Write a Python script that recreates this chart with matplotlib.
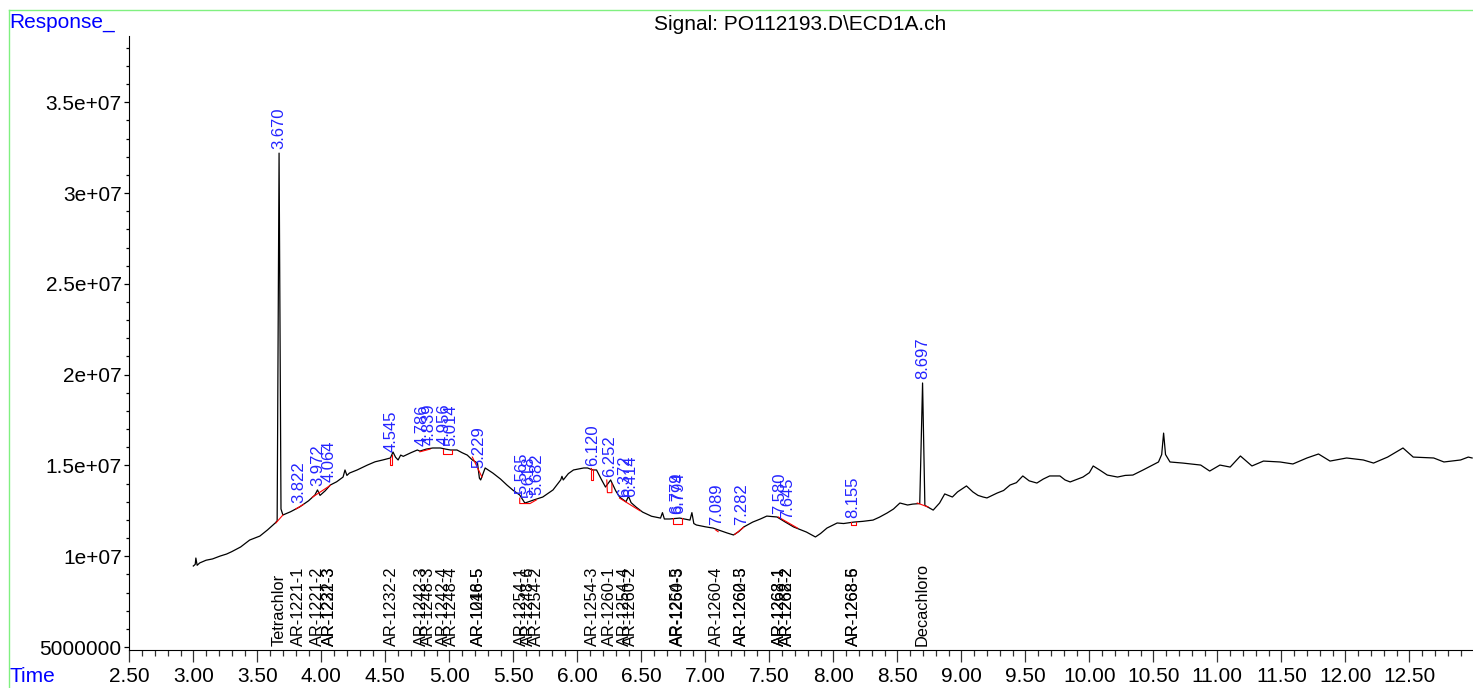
import matplotlib.pyplot as plt
import numpy as np
from matplotlib.ticker import MultipleLocator, FixedLocator, FixedFormatter
from matplotlib.lines import Line2D

plt.rcParams['font.family'] = ['Liberation Sans', 'DejaVu Sans']

# trace: retention time (min) and response (x 1e6)
time = np.array([
    3.00, 3.015, 3.02, 3.03, 3.05, 3.10, 3.15, 3.21, 3.26, 3.30,
    3.37, 3.44, 3.52, 3.58, 3.64, 3.655, 3.670, 3.685, 3.70, 3.76,
    3.83, 3.90, 3.95, 3.97, 3.99, 4.03, 4.07, 4.12, 4.17, 4.185,
    4.20, 4.22, 4.28, 4.36, 4.42, 4.48, 4.54, 4.56, 4.58, 4.60,
    4.62, 4.64, 4.70, 4.75, 4.77, 4.82, 4.87, 4.93, 4.97, 5.01,
    5.06, 5.10, 5.14, 5.18, 5.22, 5.235, 5.245, 5.28, 5.34, 5.40,
    5.45, 5.50, 5.55, 5.59, 5.62, 5.66, 5.73, 5.81, 5.87, 5.88,
    5.89, 5.93, 5.97, 6.05, 6.08, 6.12, 6.15, 6.19, 6.22, 6.26,
    6.30, 6.33, 6.38, 6.40, 6.42, 6.46, 6.51, 6.58, 6.65, 6.665,
    6.68, 6.72, 6.80, 6.88, 6.895, 6.91, 6.93, 7.00, 7.06, 7.12,
    7.17, 7.22, 7.26, 7.30, 7.37, 7.43, 7.48, 7.56, 7.62, 7.69,
    7.79, 7.86, 7.90, 7.95, 8.03, 8.08, 8.16, 8.23, 8.31, 8.36,
    8.42, 8.47, 8.52, 8.58, 8.62, 8.675, 8.697, 8.715, 8.78, 8.83,
    8.87, 8.93, 8.97, 9.04, 9.09, 9.13, 9.17, 9.20, 9.28, 9.33,
    9.38, 9.43, 9.48, 9.53, 9.59, 9.64, 9.69, 9.77, 9.81, 9.85,
    9.95, 10.00, 10.03, 10.08, 10.14, 10.22, 10.28, 10.34, 10.42, 10.48,
    10.54, 10.565, 10.58, 10.595, 10.63, 10.73, 10.87, 10.94, 11.02, 11.10,
    11.18, 11.27, 11.36, 11.49, 11.59, 11.70, 11.79, 11.88, 12.01, 12.14,
    12.22, 12.33, 12.45, 12.53, 12.69, 12.77, 12.90, 12.96, 12.99,
])
resp = np.array([
    9.46, 9.55, 9.90, 9.50, 9.63, 9.78, 9.85, 10.01, 10.12, 10.25,
    10.51, 10.89, 11.11, 11.45, 11.83, 11.95, 32.20, 12.60, 12.27, 12.45,
    12.71, 13.05, 13.37, 13.65, 13.35, 13.60, 13.92, 14.10, 14.36, 14.75,
    14.45, 14.58, 14.75, 15.02, 15.20, 15.30, 15.41, 15.74, 15.45, 15.30,
    15.57, 15.50, 15.70, 15.85, 15.79, 15.90, 15.96, 15.96, 15.90, 15.85,
    15.85, 15.70, 15.57, 15.30, 15.13, 14.30, 14.20, 14.86, 14.58, 14.25,
    13.92, 13.62, 13.37, 12.93, 13.00, 13.10, 13.26, 13.65, 14.20, 14.40,
    14.20, 14.55, 14.75, 14.86, 14.86, 14.75, 14.75, 14.20, 13.81, 14.20,
    13.60, 13.26, 13.00, 13.30, 12.95, 12.70, 12.43, 12.20, 12.10, 12.40,
    12.05, 12.05, 12.10, 11.99, 12.40, 11.80, 11.72, 11.62, 11.55, 11.40,
    11.28, 11.17, 11.35, 11.61, 11.88, 12.05, 12.21, 12.16, 11.90, 11.61,
    11.33, 11.06, 11.25, 11.55, 11.83, 11.80, 11.88, 11.92, 11.99, 12.15,
    12.38, 12.60, 12.93, 12.82, 12.87, 12.90, 19.54, 12.80, 12.54, 12.93,
    13.43, 13.26, 13.54, 13.87, 13.54, 13.35, 13.26, 13.21, 13.48, 13.62,
    13.92, 14.05, 14.42, 14.15, 14.03, 14.25, 14.42, 14.42, 14.20, 14.09,
    14.36, 14.60, 14.97, 14.75, 14.47, 14.36, 14.45, 14.47, 14.75, 14.97,
    15.19, 15.60, 16.78, 15.60, 15.19, 15.13, 15.02, 14.69, 15.02, 14.91,
    15.52, 14.97, 15.24, 15.19, 15.08, 15.41, 15.63, 15.24, 15.41, 15.30,
    15.13, 15.46, 15.96, 15.46, 15.41, 15.19, 15.30, 15.46, 15.41,
]) * 1e6

# integration baselines (red)
baselines = [
    ([3.645, 3.70], [11.83, 12.27]),
    ([3.80, 3.86], [12.60, 12.85]),
    ([3.93, 4.07], [13.25, 13.90]),
    ([4.535, 4.535, 4.555, 4.555], [15.41, 15.00, 15.00, 15.55]),
    ([4.77, 4.85], [15.75, 15.90]),
    ([4.95, 4.95, 5.02, 5.02], [15.92, 15.65, 15.65, 15.85]),
    ([5.18, 5.255], [15.46, 14.36]),
    ([5.55, 5.55, 5.63, 5.68], [13.20, 12.90, 12.90, 13.10]),
    ([6.11, 6.11, 6.125, 6.125], [14.86, 14.20, 14.20, 14.80]),
    ([6.23, 6.235, 6.27, 6.27], [14.20, 13.50, 13.50, 14.00]),
    ([6.33, 6.49], [13.20, 12.50]),
    ([6.75, 6.75, 6.82, 6.82], [12.08, 11.80, 11.80, 12.10]),
    ([7.08, 7.10], [11.45, 11.35]),
    ([7.23, 7.30], [11.20, 11.60]),
    ([7.57, 7.72], [12.16, 11.55]),
    ([8.14, 8.14, 8.18, 8.18], [11.90, 11.70, 11.70, 11.90]),
    ([8.655, 8.74], [12.93, 12.71]),
]

peak_rt = [3.670, 3.822, 3.972, 4.064, 4.545, 4.786, 4.839, 4.956, 5.014,
           5.229, 5.565, 5.618, 5.682, 6.120, 6.252, 6.372, 6.414, 6.779,
           6.794, 7.089, 7.282, 7.580, 7.645, 8.155, 8.697]

compound_rt = [3.670, 3.822, 3.972, 4.064, 4.064, 4.545, 4.786, 4.839,
               4.956, 5.014, 5.229, 5.229, 5.565, 5.618, 5.682, 6.120,
               6.252, 6.372, 6.414, 6.779, 6.794, 7.089, 7.282, 7.282,
               7.580, 7.580, 7.645, 7.645, 8.155, 8.155, 8.697]
compound_name = ['Tetrachlor', 'AR-1221-1', 'AR-1221-2', 'AR-1232-3', 'AR-1221-3',
                 'AR-1232-2', 'AR-1242-3', 'AR-1248-3', 'AR-1242-4', 'AR-1248-4',
                 'AR-1016-5', 'AR-1248-5', 'AR-1254-1', 'AR-1248-6', 'AR-1254-2',
                 'AR-1254-3', 'AR-1260-1', 'AR-1254-4', 'AR-1260-2', 'AR-1254-5',
                 'AR-1260-3', 'AR-1260-4', 'AR-1260-5', 'AR-1262-3', 'AR-1268-1',
                 'AR-1262-1', 'AR-1268-2', 'AR-1262-2', 'AR-1268-5', 'AR-1268-6',
                 'Decachloro']

ytick_vals = [5e6, 1e7, 1.5e7, 2e7, 2.5e7, 3e7, 3.5e7]
ytick_text = ['5000000', '1e+07', '1.5e+07', '2e+07', '2.5e+07', '3e+07', '3.5e+07']

fig = plt.figure(figsize=(14.73, 6.88), dpi=100)
ax = fig.add_axes([129.3 / 1473, 38 / 688, 1 - 129.3 / 1473, 614 / 688])

ax.plot(time, resp, color='black', lw=0.9)
for bt, bv in baselines:
    ax.plot(bt, np.array(bv) * 1e6, color='red', lw=0.8)

for rt in peak_rt:
    ax.annotate(f'{rt:.3f}', xy=(rt, np.interp(rt, time, resp)), xytext=(0, 3),
                textcoords='offset points', rotation=90, ha='center', va='bottom',
                color='#2424ff', fontsize=12)

for rt, name in zip(compound_rt, compound_name):
    ax.annotate(name, xy=(rt, 0), xycoords=('data', 'axes fraction'), xytext=(0, 3),
                textcoords='offset points', rotation=90, ha='center', va='bottom',
                color='black', fontsize=11.8)

ax.set_xlim(2.5, 12.997)
ax.set_ylim(4.835e6, 3.865e7)
ax.spines['top'].set_visible(False)
ax.spines['right'].set_visible(False)
ax.xaxis.set_major_locator(MultipleLocator(0.5))
ax.xaxis.set_minor_locator(MultipleLocator(0.1))
ax.xaxis.set_major_formatter(lambda v, p: f'{v:.2f}' if v < 12.9 else '')
ax.yaxis.set_major_locator(FixedLocator(ytick_vals))
ax.yaxis.set_major_formatter(FixedFormatter(ytick_text))
ax.yaxis.set_minor_locator(MultipleLocator(1e6))
ax.tick_params(axis='x', which='major', length=8.5, width=0.9, labelsize=15, pad=4, color='#333333')
ax.tick_params(axis='x', which='minor', length=4, width=0.9, color='#333333')
ax.tick_params(axis='y', which='major', length=3.5, width=0.9, labelsize=15, pad=2)
ax.tick_params(axis='y', which='minor', length=2, width=0.9)

fig.text(9 / 1473, 1 - 23 / 688, 'Response_', color='#0000ff', fontsize=15, va='center', ha='left')
fig.text(9 / 1473, 1 - 677 / 688, 'Time', color='#0000ff', fontsize=15, va='center', ha='left')
fig.text(800 / 1473, 1 - 24 / 688, 'Signal: PO112193.D\\ECD1A.ch', color='black', fontsize=15,
         va='center', ha='center')

fig.add_artist(Line2D([8.5 / 1473, 1], [1 - 9.5 / 688] * 2, transform=fig.transFigure,
                      color='#80f080', lw=1))
fig.add_artist(Line2D([8.5 / 1473] * 2, [0, 1 - 9.5 / 688], transform=fig.transFigure,
                      color='#80f080', lw=1))

fig.savefig('out.png', dpi=100)
